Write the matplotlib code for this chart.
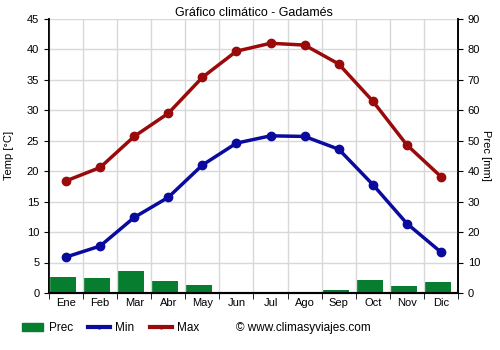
import numpy as np
import matplotlib.pyplot as plt
from matplotlib.lines import Line2D
from matplotlib.patches import Patch

plt.rcParams['font.family'] = ['Liberation Sans', 'DejaVu Sans']
plt.rcParams['font.size'] = 8

meses = ['Ene', 'Feb', 'Mar', 'Abr', 'May', 'Jun', 'Jul', 'Ago', 'Sep', 'Oct', 'Nov', 'Dic']
t_min = [5.9, 7.7, 12.4, 15.7, 21.0, 24.6, 25.8, 25.7, 23.6, 17.8, 11.4, 6.7]
t_max = [18.4, 20.6, 25.7, 29.5, 35.4, 39.7, 41.0, 40.7, 37.6, 31.5, 24.3, 19.1]
prec = [5.4, 4.9, 7.2, 3.9, 2.6, 0.3, 0.1, 0.2, 1.0, 4.3, 2.3, 3.6]

c_min = '#0a0a9e'
c_max = '#9a0a0a'
c_prec = '#077d30'

fig = plt.figure(figsize=(5, 3.5), dpi=100)
ax1 = fig.add_axes([0.098, 0.163, 0.818, 0.783])
ax2 = ax1.twinx()

x = np.arange(len(meses))

# precipitation bars on the right axis, sitting at the left of each month cell
ax2.bar(x - 0.48, prec, width=0.77, align='edge', color=c_prec, zorder=1)
ax2.set_ylim(0, 90)
ax2.set_yticks(range(0, 91, 10))
ax2.set_ylabel('Prec [mm]', rotation=270, labelpad=8)

ax1.set_zorder(ax2.get_zorder() + 1)
ax1.patch.set_visible(False)

ax1.plot(x, t_min, color=c_min, lw=2.5, marker='o', ms=6, zorder=3)
ax1.plot(x, t_max, color=c_max, lw=2.5, marker='o', ms=6, zorder=3)
ax1.set_ylim(0, 45)
ax1.set_yticks(range(0, 46, 5))
ax1.set_xlim(-0.5, 11.5)
ax1.set_ylabel('Temp [°C]', labelpad=9)

# month labels centred, ticks and grid on the month boundaries
ax1.set_xticks(x)
ax1.set_xticklabels(meses)
ax1.tick_params(axis='x', length=0)
ax1.set_xticks(np.arange(-0.5, 12, 1), minor=True)
ax1.tick_params(axis='x', which='minor', length=4)
ax1.grid(True, which='minor', axis='x', color='#d8d8d8', lw=1)
ax1.grid(True, which='major', axis='y', color='#d8d8d8', lw=1)
ax1.set_axisbelow(True)

for ax in (ax1, ax2):
    ax.spines['top'].set_visible(False)
    ax.spines['left'].set_linewidth(1.2)
    ax.spines['right'].set_linewidth(1.2)
    ax.spines['bottom'].set_linewidth(1.5)

ax1.set_title('Gráfico climático - Gadamés', fontsize=9, pad=-4)

handles = [
    Patch(color=c_prec, label='Prec'),
    Line2D([0], [0], color=c_min, lw=3, marker='o', ms=2, label='Min'),
    Line2D([0], [0], color=c_max, lw=3, marker='o', ms=2, label='Max'),
]
fig.legend(handles=handles, loc='lower left', bbox_to_anchor=(0.022, 0.015), ncol=3,
           frameon=False, handlelength=1.85, handletextpad=0.45, columnspacing=1.3,
           fontsize=8.5)
fig.text(0.472, 0.063, '© www.climasyviajes.com', fontsize=8.5, va='center')

fig.savefig('out.png', dpi=100)
